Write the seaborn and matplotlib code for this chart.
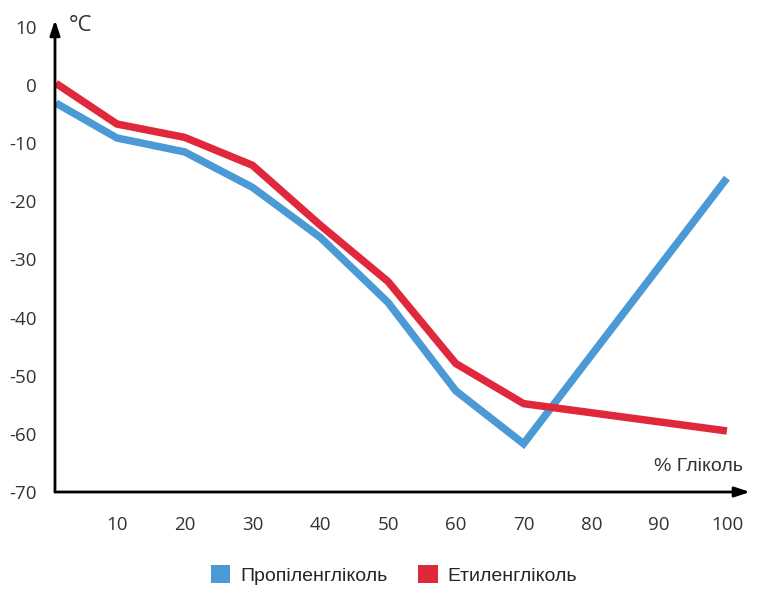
import numpy as np
import pandas as pd
import seaborn as sns
from matplotlib import pyplot as plt
from matplotlib.patches import Patch

# Freezing point vs glycol concentration
glycol_pct = [1, 10, 20, 30, 40, 50, 60, 70, 100]
propylene = [-3.1, -9.1, -11.5, -17.6, -26.2, -37.4, -52.6, -61.7, -16.0]
ethylene = [0.3, -6.7, -9.0, -13.8, -24.1, -33.8, -47.9, -54.8, -59.5]
series_names = ["Пропіленгліколь", "Етиленгліколь"]
x_ticks = [10, 20, 30, 40, 50, 60, 70, 80, 90, 100]
y_ticks = [10, 0, -10, -20, -30, -40, -50, -60, -70]

colors = {"Пропіленгліколь": "#4b9ad5", "Етиленгліколь": "#e0283c"}

df = pd.concat([
    pd.DataFrame({"pct": glycol_pct, "temp": propylene, "series": series_names[0]}),
    pd.DataFrame({"pct": glycol_pct, "temp": ethylene, "series": series_names[1]}),
])

sns.set_style("white")
plt.rcParams["font.family"] = ["Open Sans", "DejaVu Sans"]
plt.rcParams["axes.unicode_minus"] = False

fig = plt.figure(figsize=(7.8, 5.96), dpi=100)
ax = fig.add_axes([0.0705, 0.1745, 0.891, 0.792])

sns.lineplot(data=df, x="pct", y="temp", hue="series", palette=colors,
             linewidth=5.4, ax=ax, legend=False, sort=False)
for line in ax.lines:
    line.set_solid_joinstyle("miter")
    line.set_solid_capstyle("butt")

ax.set_xlim(0.86, 103.4)
ax.set_ylim(-70, 11.2)
ax.set_xticks(x_ticks)
ax.set_yticks(y_ticks)
ax.tick_params(axis="both", length=0, labelsize=13.5, colors="#333333")
ax.tick_params(axis="x", pad=17)
ax.tick_params(axis="y", pad=13)
ax.set_xlabel("")
ax.set_ylabel("")
for s in ax.spines.values():
    s.set_visible(False)

# axis arrows
ax.annotate("", xy=(1.0, 0), xytext=(0, 0), xycoords="axes fraction",
            arrowprops=dict(arrowstyle="-|>,head_length=0.9,head_width=0.3",
                            color="black", lw=2, shrinkA=0, shrinkB=0))
ax.annotate("", xy=(0, 1.0), xytext=(0, 0), xycoords="axes fraction",
            arrowprops=dict(arrowstyle="-|>,head_length=0.9,head_width=0.3",
                            color="black", lw=2, shrinkA=0, shrinkB=0))

fig.text(0.088, 0.957, "°C", fontsize=16, color="#333333", va="center", ha="left")
fig.text(0.952, 0.218, "% Гліколь", fontsize=14, color="#333333", va="center",
         ha="right", family=["Liberation Sans", "DejaVu Sans"])

handles = [Patch(facecolor=colors[n], edgecolor="none", label=n) for n in series_names]
fig.legend(handles=handles, loc="center", bbox_to_anchor=(0.505, 0.035), ncol=2,
           frameon=False, handlelength=1.0, handleheight=1.0, handletextpad=0.5,
           columnspacing=1.6, prop={"family": ["Liberation Sans", "DejaVu Sans"], "size": 14})

plt.savefig("out.png", dpi=100)
